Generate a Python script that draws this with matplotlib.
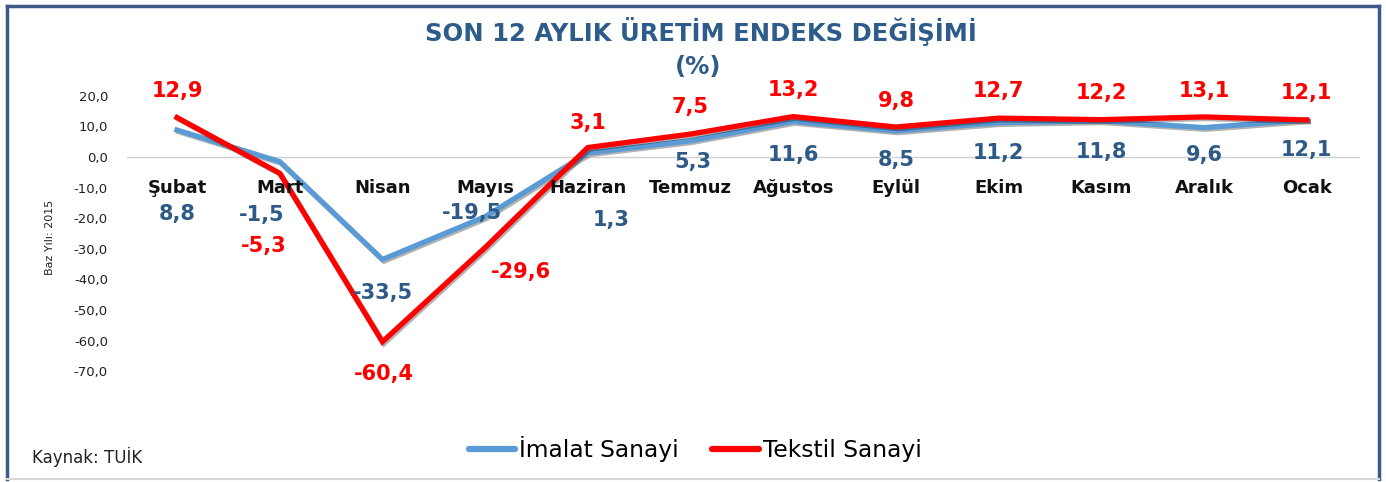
import matplotlib
matplotlib.use("Agg")
import matplotlib.pyplot as plt
import matplotlib.patheffects as pe
from matplotlib.lines import Line2D

plt.rcParams['font.family'] = ['DejaVu Sans']

# ---- data ----
months = ["Şubat", "Mart", "Nisan", "Mayıs", "Haziran", "Temmuz", "Ağustos",
          "Eylül", "Ekim", "Kasım", "Aralık", "Ocak"]
imalat = [8.8, -1.5, -33.5, -19.5, 1.3, 5.3, 11.6, 8.5, 11.2, 11.8, 9.6, 12.1]
tekstil = [12.9, -5.3, -60.4, -29.6, 3.1, 7.5, 13.2, 9.8, 12.7, 12.2, 13.1, 12.1]
yticks = [20, 10, 0, -10, -20, -30, -40, -50, -60, -70]

# label offsets in pixels (dx, dy)
imalat_off = [(0, -84), (-18, -53), (1, -33), (-13, 4), (23, -67), (2, -21),
              (0, -33), (0, -29), (0, -30), (0, -31), (0, -27), (0, -30)]
tekstil_off = [(0, 27), (-16, -73), (1, -32), (36, -24), (0, 25), (0, 27),
               (0, 27), (0, 26), (0, 27), (0, 27), (0, 26), (0, 27)]

BLUE = "#5B9BD5"
RED = "#FF0000"
DARKBLUE = "#2E5A87"
TITLE = "#2D5B8A"

W, H = 1386, 482
fig = plt.figure(figsize=(W / 100, H / 100), dpi=100)

# axes placement (pixel-based)
ax_left, ax_right = 127, 1360
ax_top, ax_bot = 80.5, 401.8
ax = fig.add_axes([ax_left / W, 1 - ax_bot / H, (ax_right - ax_left) / W, (ax_bot - ax_top) / H])
ax.set_facecolor("none")

x = list(range(len(months)))
ax.set_xlim(-(177 - ax_left) / 102.7, (ax_right - 177) / 102.7)
ax.set_ylim(-80, 25)

shadow = [pe.SimpleLineShadow(offset=(1.2, -1.2), alpha=0.3, shadow_color="black"), pe.Normal()]
ax.plot(x, imalat, color=BLUE, lw=3.8, solid_joinstyle="miter", zorder=3, path_effects=shadow)
ax.plot(x, tekstil, color=RED, lw=3.8, solid_joinstyle="miter", zorder=4, path_effects=shadow)

ax.axhline(0, color="#D0D0D0", lw=1, zorder=1)

for s in ax.spines.values():
    s.set_visible(False)
ax.set_xticks([])
ax.set_yticks(yticks)
ax.set_yticklabels([f"{v:.1f}".replace(".", ",") for v in yticks], fontsize=9.5, color="#222222")
ax.tick_params(axis="y", length=0, pad=13.7)

for i, m in enumerate(months):
    ax.text(i, -10, m, ha="center", va="center", fontsize=13, fontweight="bold", color="#111111", zorder=5)

def fmt(v):
    return f"{v:.1f}".replace(".", ",")

for i, (v, o) in enumerate(zip(imalat, imalat_off)):
    ax.annotate(fmt(v), (i, v), xytext=o, textcoords="offset pixels", ha="center", va="center",
                fontsize=15, fontweight="bold", color=DARKBLUE, zorder=6)
for i, (v, o) in enumerate(zip(tekstil, tekstil_off)):
    ax.annotate(fmt(v), (i, v), xytext=o, textcoords="offset pixels", ha="center", va="center",
                fontsize=15, fontweight="bold", color=RED, zorder=6)

fig.text(50 / W, 1 - 237 / H, "Baz Yılı: 2015", rotation=90, ha="center", va="center", fontsize=8, color="#222222")

fig.text(701 / W, 1 - 31 / H, "SON 12 AYLIK ÜRETİM ENDEKS DEĞİŞİMİ", ha="center", va="center",
         fontsize=17.5, fontweight="bold", color=TITLE)
fig.text(698 / W, 1 - 67 / H, "(%)", ha="center", va="center", fontsize=17.5, fontweight="bold", color=TITLE)

fig.text(32 / W, 1 - 457 / H, "Kaynak: TUİK", ha="left", va="center", fontsize=12, color="#222222")

handles = [Line2D([], [], color=BLUE, lw=4.5, solid_capstyle="round"),
           Line2D([], [], color=RED, lw=4.5, solid_capstyle="round")]
fig.legend(handles, ["İmalat Sanayi", "Tekstil Sanayi"], loc="center", bbox_to_anchor=(695 / W, 1 - 449 / H),
           ncol=2, frameon=False, fontsize=16.8, handlelength=2.0, handletextpad=0.15, columnspacing=1.45,
           borderpad=0, borderaxespad=0)

# frame: dark blue left/top/right, light grey bottom
def fline(x0, y0, x1, y1, color, lw):
    fig.add_artist(Line2D([x0 / W, x1 / W], [1 - y0 / H, 1 - y1 / H], transform=fig.transFigure,
                          color=color, lw=lw))

fline(6.5, 479, 6.5, 5.5, "#3B5A8A", 2.5)
fline(6.5, 5.5, 1379, 5.5, "#3B5A8A", 2.5)
fline(1379, 5.5, 1379, 479, "#3B5A8A", 2.5)
fline(6.5, 479, 1379, 479, "#D8D8D8", 1.5)

fig.savefig("out.png", dpi=100)
